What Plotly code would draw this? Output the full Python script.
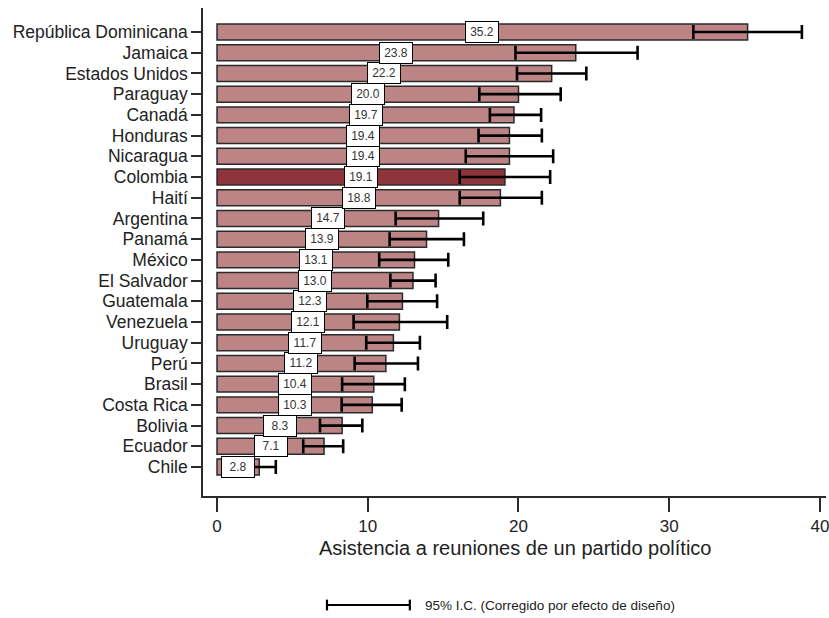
import plotly.graph_objects as go

# Countries listed top to bottom, with mean attendance (%) and 95% CI bounds
countries = ["República Dominicana", "Jamaica", "Estados Unidos", "Paraguay", "Canadá",
             "Honduras", "Nicaragua", "Colombia", "Haití", "Argentina", "Panamá", "México",
             "El Salvador", "Guatemala", "Venezuela", "Uruguay", "Perú", "Brasil",
             "Costa Rica", "Bolivia", "Ecuador", "Chile"]
values = [35.2, 23.8, 22.2, 20.0, 19.7, 19.4, 19.4, 19.1, 18.8, 14.7, 13.9, 13.1,
          13.0, 12.3, 12.1, 11.7, 11.2, 10.4, 10.3, 8.3, 7.1, 2.8]
ci_low = [31.6, 19.8, 19.9, 17.4, 18.1, 17.35, 16.5, 16.1, 16.1, 11.85, 11.45, 10.76,
          11.5, 9.97, 9.06, 9.9, 9.13, 8.3, 8.27, 6.83, 5.72, 1.9]
ci_high = [38.8, 27.9, 24.5, 22.8, 21.5, 21.55, 22.3, 22.1, 21.55, 17.66, 16.38, 15.34,
           14.5, 14.6, 15.27, 13.46, 13.33, 12.46, 12.25, 9.64, 8.37, 3.9]
highlight = "Colombia"
x_ticks = [0, 10, 20, 30, 40]

BAR = "#bc8484"
BAR_HI = "#8d353b"
INK = "#2b2b2b"
FONT = "Liberation Sans, Arial, sans-serif"

# Plot bottom-up so the first country sits at the top
cats = countries[::-1]
vals = values[::-1]
lows = ci_low[::-1]
highs = ci_high[::-1]

fig = go.Figure()
fig.add_trace(go.Bar(
    y=cats, x=vals, orientation="h", width=0.77,
    marker=dict(color=[BAR_HI if c == highlight else BAR for c in cats],
                line=dict(color=INK, width=1.5)),
    error_x=dict(type="data", symmetric=False,
                 array=[h - v for h, v in zip(highs, vals)],
                 arrayminus=[v - l for v, l in zip(vals, lows)],
                 color="black", thickness=2.6, width=7),
    hoverinfo="skip", showlegend=False,
))

# Value labels in white boxes at the middle of each bar
for c, v in zip(cats, vals):
    fig.add_annotation(x=v / 2, y=c, xref="x", yref="y", text=f"{v:.1f}",
                       showarrow=False, font=dict(family=FONT, size=12, color="#333"),
                       bgcolor="white", bordercolor="black", borderwidth=1,
                       borderpad=2, width=28, height=16)

# Axis title
fig.add_annotation(x=0.5, y=-0.107, xref="paper", yref="paper",
                   text="Asistencia a reuniones de un partido político",
                   showarrow=False, xanchor="center", yanchor="middle",
                   font=dict(family=FONT, size=20, color="#222"))

# Legend key for the confidence interval
ly = -0.2234
fig.add_shape(type="line", xref="paper", yref="paper", x0=0.199, x1=0.332, y0=ly, y1=ly,
              line=dict(color="black", width=2.2))
for xe in (0.199, 0.332):
    fig.add_shape(type="line", xref="paper", yref="paper", x0=xe, x1=xe,
                  y0=ly - 0.011, y1=ly + 0.011, line=dict(color="black", width=2.2))
fig.add_annotation(x=0.353, y=ly, xref="paper", yref="paper",
                   text="95% I.C. (Corregido por efecto de diseño)",
                   showarrow=False, xanchor="left", yanchor="middle",
                   font=dict(family=FONT, size=13.5, color="#222"))

fig.update_layout(
    width=829, height=618,
    margin=dict(l=203, r=3, t=8, b=122, autoexpand=False),
    paper_bgcolor="white", plot_bgcolor="white",
    font=dict(family=FONT, color="#222"),
    bargap=0.23,
)
fig.update_xaxes(range=[-0.93, 40.4], tickmode="array", tickvals=x_ticks,
                 showgrid=False, zeroline=False, automargin=False,
                 showline=True, linecolor=INK, linewidth=1.5,
                 ticks="outside", ticklen=14, tickwidth=1.5, tickcolor=INK,
                 ticklabeloverflow="allow",
                 tickfont=dict(family=FONT, size=17, color="#222"))
fig.update_yaxes(categoryorder="array", categoryarray=cats, range=[-1.4, 22.16],
                 tickmode="array", tickvals=cats, ticktext=cats,
                 showgrid=False, zeroline=False, automargin=False,
                 showline=True, linecolor=INK, linewidth=1.5,
                 ticks="outside", ticklen=10, tickwidth=1.5, tickcolor=INK,
                 tickfont=dict(family=FONT, size=17.5, color="#222"))

fig.write_html("out.html")
